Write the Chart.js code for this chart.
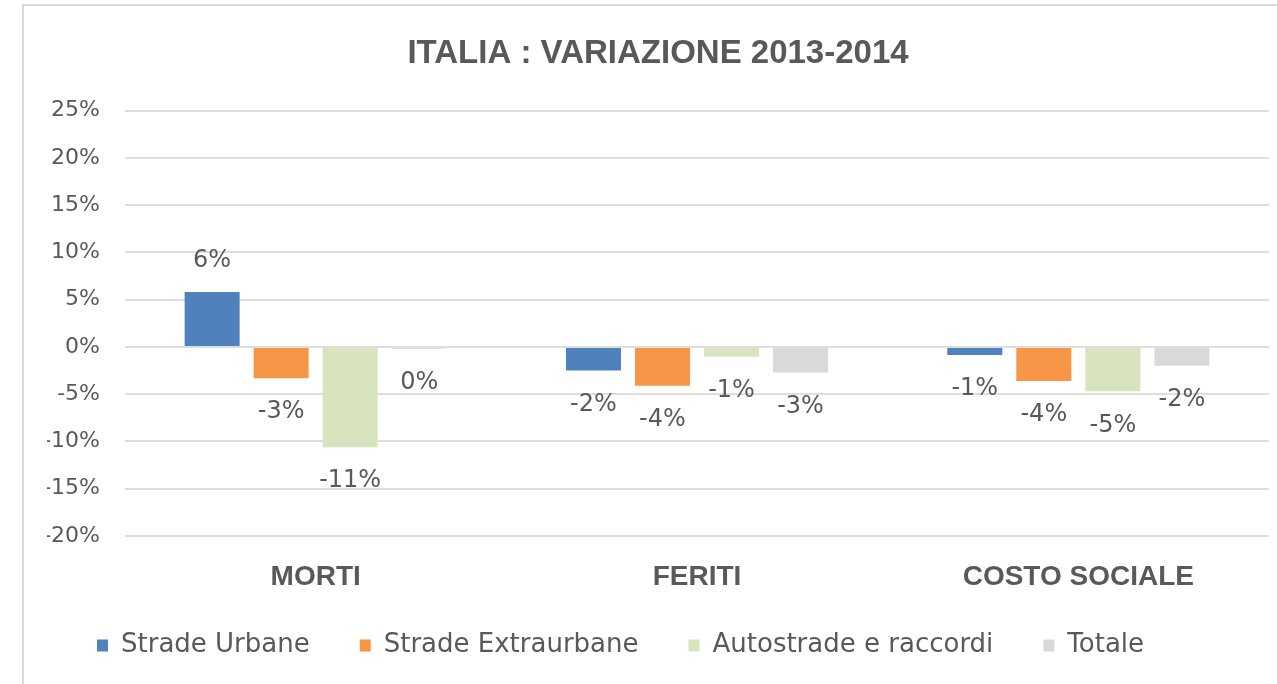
<!DOCTYPE html>
<html>
<head>
<meta charset="utf-8">
<script src="https://cdn.jsdelivr.net/npm/chart.js@4.4.1/dist/chart.umd.min.js"></script>
<style>
  html, body { margin: 0; padding: 0; background: #fff; overflow: hidden; }
  #frame { position: absolute; left: 22px; top: 4px; width: 1255px; height: 680px;
           border-left: 2px solid #d9d9d9; border-top: 2px solid #d9d9d9; }
  #wrap { position: relative; width: 1253px; height: 678px; }
</style>
</head>
<body>
<div id="frame"><div id="wrap"><canvas id="chart-italia"></canvas></div></div>
<script>
// dati (variazione % 2013-2014)
const categorie = ['MORTI', 'FERITI', 'COSTO SOCIALE'];
const strade_urbane = [5.8, -2.5, -0.85];
const strade_extraurbane = [-3.3, -4.1, -3.6];
const autostrade = [-10.6, -1.05, -4.7];
const totale = [-0.2, -2.7, -2.0];
const y_min = -20;
const y_max = 25;
const y_step = 5;

const grigio = '#595959';

// etichette dei valori, sopra le barre positive e sotto quelle negative
const etichette = {
  id: 'etichette',
  afterDatasetsDraw(chart) {
    const ctx = chart.ctx;
    ctx.save();
    ctx.font = '24px "DejaVu Sans"';
    ctx.fillStyle = grigio;
    ctx.textAlign = 'center';
    ctx.textBaseline = 'middle';
    chart.data.datasets.forEach((ds, i) => {
      chart.getDatasetMeta(i).data.forEach((bar, j) => {
        const v = ds.data[j];
        const y = v >= 0 ? bar.y - 31 : bar.y + 34;
        ctx.fillText(Math.round(v) + '%', bar.x, y);
      });
    });
    ctx.restore();
  }
};

const italia = document.getElementById('chart-italia');

new Chart(italia, {
  type: 'bar',
  data: {
    labels: categorie,
    datasets: [
      { label: 'Strade Urbane', data: strade_urbane, backgroundColor: '#4f81bd' },
      { label: 'Strade Extraurbane', data: strade_extraurbane, backgroundColor: '#f79646' },
      { label: 'Autostrade e raccordi', data: autostrade, backgroundColor: '#d7e4bd' },
      { label: 'Totale', data: totale, backgroundColor: '#d9d9d9' },
    ],
  },
  options: {
    responsive: true,
    maintainAspectRatio: false,
    animation: false,
    categoryPercentage: 0.724,
    barPercentage: 0.797,
    layout: { padding: { left: 23, right: 8, top: 0, bottom: 15.5 } },
    scales: {
      x: {
        grid: { display: false, drawTicks: false },
        border: { display: false },
        ticks: {
          // mirror: niente ritaglio delle etichette dentro l'asse (padding negativo = sotto)
          mirror: true,
          padding: -58.3,
          color: grigio,
          font: { family: '"Liberation Sans", Arial, sans-serif', size: 28, weight: 'bold' },
        },
        afterFit(scale) { scale.height = 46.5; },
      },
      y: {
        min: y_min,
        max: y_max,
        grid: { color: '#dedede', lineWidth: 2, drawTicks: false },
        border: { display: false },
        ticks: {
          stepSize: y_step,
          padding: 25,
          color: grigio,
          font: { family: '"DejaVu Sans", sans-serif', size: 22 },
          callback: (v) => v + '%',
        },
        afterFit(scale) { scale.width = 78; },
      },
    },
    plugins: {
      title: {
        display: true,
        text: 'ITALIA : VARIAZIONE 2013-2014',
        color: grigio,
        font: { family: '"Liberation Sans", Arial, sans-serif', size: 33, weight: 'bold' },
        padding: { top: 28, bottom: 37 },
      },
      legend: {
        position: 'bottom',
        align: 'start',
        labels: {
          boxWidth: 11,
          boxHeight: 12,
          padding: 50,
          color: grigio,
          font: { family: '"DejaVu Sans", sans-serif', size: 26 },
        },
      },
      tooltip: { enabled: false },
    },
  },
  plugins: [etichette],
});
</script>
</body>
</html>
